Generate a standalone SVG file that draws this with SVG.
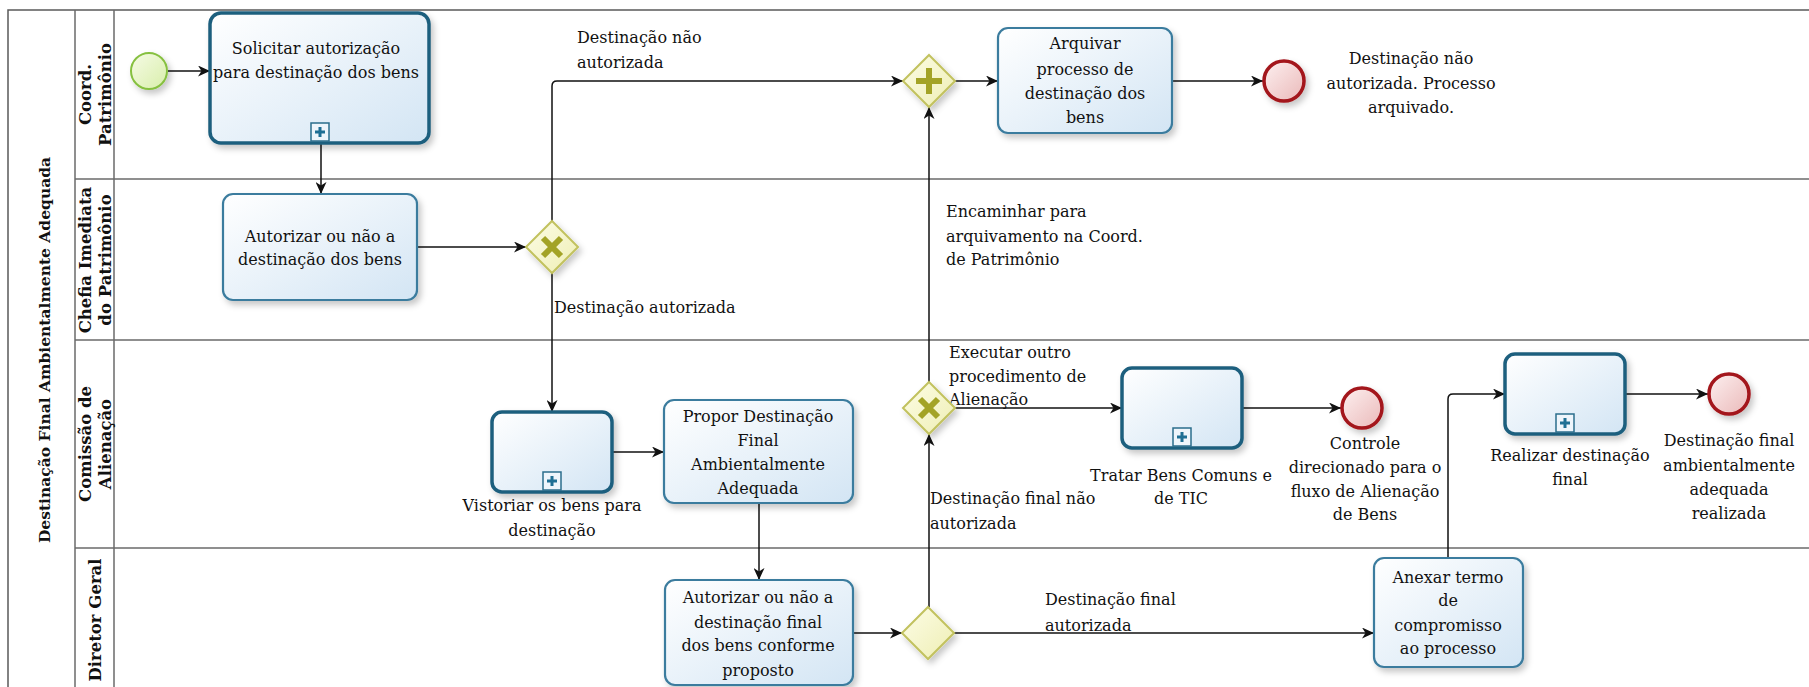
<svg xmlns="http://www.w3.org/2000/svg" width="1809" height="687" viewBox="0 0 1809 687" font-family="'DejaVu Serif', serif">
  <defs>
    <linearGradient id="taskFill" x1="0" y1="0" x2="1" y2="1">
      <stop offset="0" stop-color="#ffffff"/>
      <stop offset="1" stop-color="#d3e5f4"/>
    </linearGradient>
    <linearGradient id="gwFill" x1="0" y1="0" x2="1" y2="1">
      <stop offset="0" stop-color="#fdfde6"/>
      <stop offset="1" stop-color="#eeeeb4"/>
    </linearGradient>
    <linearGradient id="startFill" x1="0" y1="0" x2="1" y2="1">
      <stop offset="0" stop-color="#f6fbe6"/>
      <stop offset="1" stop-color="#d8eeaa"/>
    </linearGradient>
    <linearGradient id="endFill" x1="0" y1="0" x2="1" y2="1">
      <stop offset="0" stop-color="#fdf0f0"/>
      <stop offset="1" stop-color="#eab9b9"/>
    </linearGradient>
    <filter id="shadow" x="-20%" y="-20%" width="150%" height="150%">
      <feDropShadow dx="3" dy="4" stdDeviation="3" flood-color="#000" flood-opacity="0.22"/>
    </filter>
    <marker id="arrow" markerUnits="userSpaceOnUse" markerWidth="13" markerHeight="11" refX="12" refY="5.5" orient="auto">
      <path d="M0,0 L12,5.5 L0,11 L3.5,5.5 z" fill="#111"/>
    </marker>
    <g id="subMarker">
      <rect x="-9" y="-9" width="18" height="18" fill="#eef5fb" stroke="#2b6d8c" stroke-width="1.5"/>
      <path d="M-5,0 H5 M0,-5 V5" stroke="#1f6f94" stroke-width="3"/>
    </g>
  </defs>
  <style>
    .pool { fill: #ffffff; stroke: #5a5a5a; stroke-width: 1.5; }
    .lane { stroke: #6a6a6a; stroke-width: 1.5; fill: none; }
    .task { fill: url(#taskFill); stroke: #3b7c9e; stroke-width: 2.2; filter: url(#shadow); }
    .sub { fill: url(#taskFill); stroke: #1f5f7e; stroke-width: 3.5; filter: url(#shadow); }
    .gw { fill: url(#gwFill); stroke: #c2c25e; stroke-width: 2; filter: url(#shadow); }
    .gwmark { stroke: #a3a326; stroke-width: 6; fill: none; }
    .start { fill: url(#startFill); stroke: #86c040; stroke-width: 2; filter: url(#shadow); }
    .end { fill: url(#endFill); stroke: #a3141a; stroke-width: 3.5; filter: url(#shadow); }
    .flow { fill: none; stroke: #111; stroke-width: 1.5; marker-end: url(#arrow); }
    text { font-family: 'DejaVu Serif', serif; font-size: 16px; fill: #111; }
    .c { text-anchor: middle; }
    .hdr { font-weight: bold; font-size: 16.5px; text-anchor: middle; }
    .title { font-weight: bold; font-size: 15.5px; text-anchor: middle; }
  </style>

  <rect width="1809" height="687" fill="#ffffff"/>

  <!-- pool and lanes -->
  <g id="pool">
    <rect class="pool" x="8" y="10" width="1820" height="700"/>
    <line class="lane" x1="75" y1="10" x2="75" y2="700"/>
    <line class="lane" x1="114" y1="10" x2="114" y2="700"/>
    <line class="lane" x1="75" y1="179" x2="1820" y2="179"/>
    <line class="lane" x1="75" y1="340" x2="1820" y2="340"/>
    <line class="lane" x1="75" y1="548" x2="1820" y2="548"/>
    <text class="title" transform="translate(44,350) rotate(-90)" y="6">Destinação Final Ambientalmente Adequada</text>
    <g transform="translate(94.5,94.5) rotate(-90)">
      <text class="hdr" y="-4">Coord.</text>
      <text class="hdr" y="16">Patrimônio</text>
    </g>
    <g transform="translate(94.5,260) rotate(-90)">
      <text class="hdr" y="-4">Chefia Imediata</text>
      <text class="hdr" y="16">do Patrimônio</text>
    </g>
    <g transform="translate(94.5,444) rotate(-90)">
      <text class="hdr" y="-4">Comissão de</text>
      <text class="hdr" y="16">Alienação</text>
    </g>
    <g transform="translate(94.5,620) rotate(-90)">
      <text class="hdr" y="6">Diretor Geral</text>
    </g>
  </g>

  <!-- sequence flows -->
  <g id="connectors">
    <path class="flow" d="M168,71 H210"/>
    <path class="flow" d="M321,143 V194"/>
    <path class="flow" d="M417,247 H526"/>
    <path class="flow" d="M552,221 V86 Q552,81 557,81 H903"/>
    <path class="flow" d="M552,273 V412"/>
    <path class="flow" d="M955,81 H998"/>
    <path class="flow" d="M1172,81 H1263"/>
    <path class="flow" d="M612,452 H664"/>
    <path class="flow" d="M759,503 V580"/>
    <path class="flow" d="M853,633 H902"/>
    <path class="flow" d="M929,607 V434"/>
    <path class="flow" d="M929,382 V107"/>
    <path class="flow" d="M955,408 H1122"/>
    <path class="flow" d="M1242,408 H1341"/>
    <path class="flow" d="M954,633 H1374"/>
    <path class="flow" d="M1448,558 V399 Q1448,394 1453,394 H1505"/>
    <path class="flow" d="M1625,394 H1708"/>
  </g>

  <!-- flow labels -->
  <g id="flow-labels">
    <text x="577" y="43">Destinação não</text>
    <text x="577" y="68">autorizada</text>
    <text x="554" y="313">Destinação autorizada</text>
    <text x="946" y="217">Encaminhar para</text>
    <text x="946" y="242">arquivamento na Coord.</text>
    <text x="946" y="265">de Patrimônio</text>
    <text x="949" y="358">Executar outro</text>
    <text x="949" y="382">procedimento de</text>
    <text x="949" y="405">Alienação</text>
    <text x="930" y="504">Destinação final não</text>
    <text x="930" y="529">autorizada</text>
    <text x="1045" y="605">Destinação final</text>
    <text x="1045" y="631">autorizada</text>
  </g>

  <!-- Coord. Patrimônio -->
  <g id="start">
    <circle class="start" cx="149" cy="71" r="18"/>
  </g>
  <g id="solicitar">
    <rect class="sub" x="210" y="13" width="219" height="130" rx="11"/>
    <use href="#subMarker" x="320" y="132"/>
    <text class="c" x="316" y="54">Solicitar autorização</text>
    <text class="c" x="316" y="78">para destinação dos bens</text>
  </g>
  <g id="gw-parallel">
    <polygon class="gw" points="929,55 955,81 929,107 903,81"/>
    <path class="gwmark" d="M929,68 V94 M916,81 H942"/>
  </g>
  <g id="arquivar">
    <rect class="task" x="998" y="28" width="174" height="105" rx="10"/>
    <text class="c" x="1085" y="49">Arquivar</text>
    <text class="c" x="1085" y="75">processo de</text>
    <text class="c" x="1085" y="99">destinação dos</text>
    <text class="c" x="1085" y="123">bens</text>
  </g>
  <g id="end-arquivado">
    <circle class="end" cx="1284" cy="81" r="20"/>
    <text class="c" x="1411" y="64">Destinação não</text>
    <text class="c" x="1411" y="89">autorizada. Processo</text>
    <text class="c" x="1411" y="113">arquivado.</text>
  </g>

  <!-- Chefia Imediata do Patrimônio -->
  <g id="autorizar">
    <rect class="task" x="223" y="194" width="194" height="106" rx="10"/>
    <text class="c" x="320" y="242">Autorizar ou não a</text>
    <text class="c" x="320" y="265">destinação dos bens</text>
  </g>
  <g id="gw-autorizacao">
    <polygon class="gw" points="552,221 578,247 552,273 526,247"/>
    <path class="gwmark" d="M543,238 L561,256 M561,238 L543,256"/>
  </g>

  <!-- Comissão de Alienação -->
  <g id="vistoriar">
    <rect class="sub" x="492" y="412" width="120" height="80" rx="10"/>
    <use href="#subMarker" x="552" y="481"/>
    <text class="c" x="552" y="511">Vistoriar os bens para</text>
    <text class="c" x="552" y="536">destinação</text>
  </g>
  <g id="propor">
    <rect class="task" x="664" y="400" width="189" height="103" rx="10"/>
    <text class="c" x="758" y="422">Propor Destinação</text>
    <text class="c" x="758" y="446">Final</text>
    <text class="c" x="758" y="470">Ambientalmente</text>
    <text class="c" x="758" y="494">Adequada</text>
  </g>
  <g id="gw-alienacao">
    <polygon class="gw" points="929,382 955,408 929,434 903,408"/>
    <path class="gwmark" d="M920,399 L938,417 M938,399 L920,417"/>
  </g>
  <g id="tratar">
    <rect class="sub" x="1122" y="368" width="120" height="80" rx="10"/>
    <use href="#subMarker" x="1182" y="437"/>
    <text class="c" x="1181" y="481">Tratar Bens Comuns e</text>
    <text class="c" x="1181" y="504">de TIC</text>
  </g>
  <g id="end-controle">
    <circle class="end" cx="1362" cy="408" r="20"/>
    <text class="c" x="1365" y="449">Controle</text>
    <text class="c" x="1365" y="473">direcionado para o</text>
    <text class="c" x="1365" y="497">fluxo de Alienação</text>
    <text class="c" x="1365" y="520">de Bens</text>
  </g>
  <g id="realizar">
    <rect class="sub" x="1505" y="354" width="120" height="80" rx="10"/>
    <use href="#subMarker" x="1565" y="423"/>
    <text class="c" x="1570" y="461">Realizar destinação</text>
    <text class="c" x="1570" y="485">final</text>
  </g>
  <g id="end-realizada">
    <circle class="end" cx="1729" cy="394" r="20"/>
    <text class="c" x="1729" y="446">Destinação final</text>
    <text class="c" x="1729" y="471">ambientalmente</text>
    <text class="c" x="1729" y="495">adequada</text>
    <text class="c" x="1729" y="519">realizada</text>
  </g>

  <!-- Diretor Geral -->
  <g id="autorizar-final">
    <rect class="task" x="665" y="580" width="188" height="105" rx="10"/>
    <text class="c" x="758" y="603">Autorizar ou não  a</text>
    <text class="c" x="758" y="628">destinação final</text>
    <text class="c" x="758" y="651">dos bens conforme</text>
    <text class="c" x="758" y="676">proposto</text>
  </g>
  <g id="gw-final">
    <polygon class="gw" points="928,607 954,633 928,659 902,633"/>
  </g>
  <g id="anexar">
    <rect class="task" x="1374" y="558" width="149" height="109" rx="10"/>
    <text class="c" x="1448" y="583">Anexar termo</text>
    <text class="c" x="1448" y="606">de</text>
    <text class="c" x="1448" y="631">compromisso</text>
    <text class="c" x="1448" y="654">ao processo</text>
  </g>
</svg>
